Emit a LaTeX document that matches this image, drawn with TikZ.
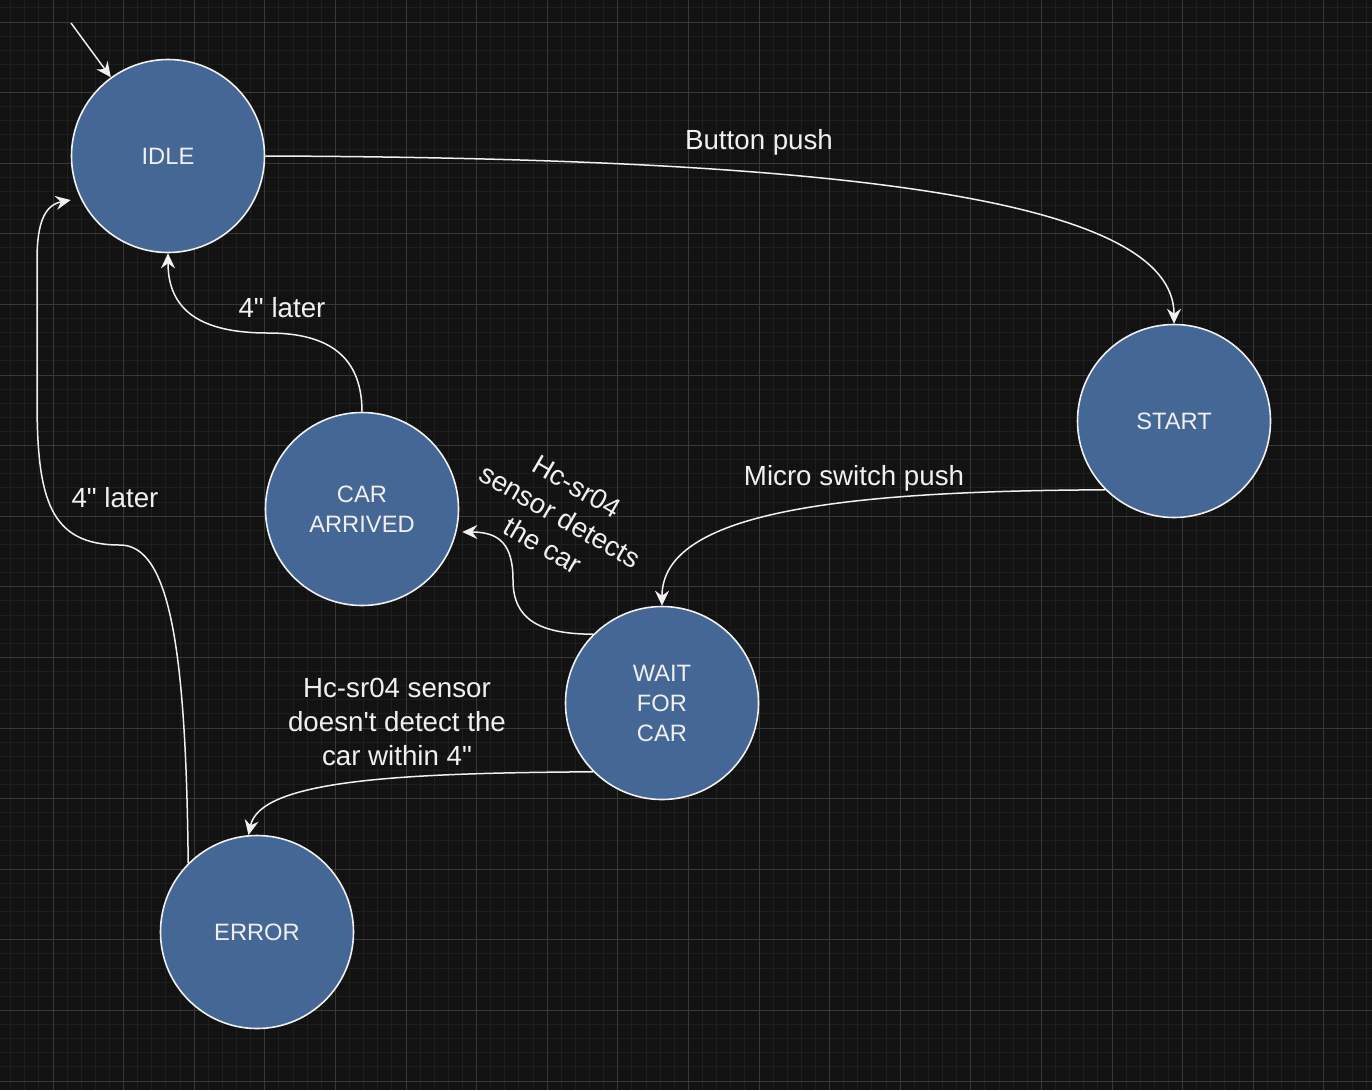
\documentclass[tikz,border=0pt]{standalone}
\usepackage{fontspec}
\newfontfamily\lsans{Liberation Sans}
\usetikzlibrary{arrows.meta}
\definecolor{bg}{HTML}{121212}
\definecolor{gridminor}{HTML}{1E1E1E}
\definecolor{gridmajor}{HTML}{383838}
\definecolor{statefill}{HTML}{456796}
\definecolor{ink}{HTML}{F0F0F0}
\tikzset{
  statenode/.style={circle, draw=ink, line width=1.6pt, fill=statefill,
    minimum size=193pt, inner sep=0pt, text=ink, align=center,
    font=\lsans\fontsize{23.7pt}{30pt}\selectfont},
  trans/.style={draw=ink, line width=1.5pt,
    -{Stealth[length=15pt,width=14pt,inset=5pt]}},
  elabel/.style={text=ink, align=center, inner sep=0pt,
    font=\lsans\fontsize{27.7pt}{34pt}\selectfont},
  minorline/.style={draw=gridminor, line width=1pt},
  majorline/.style={draw=gridmajor, line width=1pt},
}
\begin{document}
\begin{tikzpicture}[x=1pt,y=-1pt]
\useasboundingbox (0,0) rectangle (1372,1090);
\fill[bg] (0,0) rectangle (1372,1090);
% grid
\foreach \i in {0,...,96} \draw[minorline] ({10.64+14.12*\i},0) -- ++(0,1090);
\foreach \i in {0,...,76} \draw[minorline] (0,{7.88+14.12*\i}) -- ++(1372,0);
\foreach \i in {0,...,18} \draw[majorline] ({53+70.6*\i},0) -- ++(0,1090);
\foreach \i in {0,...,15} \draw[majorline] (0,{22+70.6*\i}) -- ++(1372,0);

% states
\node[statenode] (idle)  at (168,156) {IDLE};
\node[statenode] (start) at (1174,421) {START};
\node[statenode] (car)   at (362,509) {CAR\\ARRIVED};
\node[statenode] (wait)  at (662,703) {WAIT\\FOR\\CAR};
\node[statenode] (error) at (257,932) {ERROR};

% initial arrow
\coordinate (init) at (71,23);
\draw[trans] (init) -- (idle.126);

% IDLE -> START
\draw[trans] (idle.east) .. controls (850,158) and (1174,200) .. (start.north);
\node[elabel, anchor=base] (lbuttonpush) at (759,149.3) {Button push};

% START -> WAIT
\draw[trans] (start.225) .. controls (840,491) and (662,512) .. (wait.north);
\node[elabel, anchor=base] (lmicro) at (854,485) {Micro switch push};

% WAIT -> CAR ARRIVED
\draw[trans] (wait.135) .. controls (540,634) and (513,620) .. (513,580)
  .. controls (513,545) and (500,532) .. ([shift={(3,23)}]car.east);
\node[elabel, rotate=-30] (ldetect) at (560,516) {Hc-sr04\\sensor detects\\the car};

% CAR ARRIVED -> IDLE
\draw[trans] (car.north) .. controls (362,350) and (320,333) .. (268,333)
  .. controls (200,333) and (168,310) .. (idle.south);
\node[elabel, anchor=base] (llater1) at (282,317) {4" later};

% WAIT -> ERROR
\draw[trans] (wait.225) .. controls (400,773) and (260,780) .. (error.95.5);
\node[elabel] (lnodetect) at (397,722) {Hc-sr04 sensor\\doesn't detect the\\car within 4"};

% ERROR -> IDLE
\draw[trans] (error.135) .. controls (186,650) and (170,545) .. (120,545)
  .. controls (50,545) and (37,500) .. (37,400) -- (37,260)
  .. controls (37,222) and (45,205) .. ([shift={(0,44)}]idle.west);
\node[elabel, anchor=base] (llater2) at (115,507) {4" later};
\end{tikzpicture}
\end{document}
